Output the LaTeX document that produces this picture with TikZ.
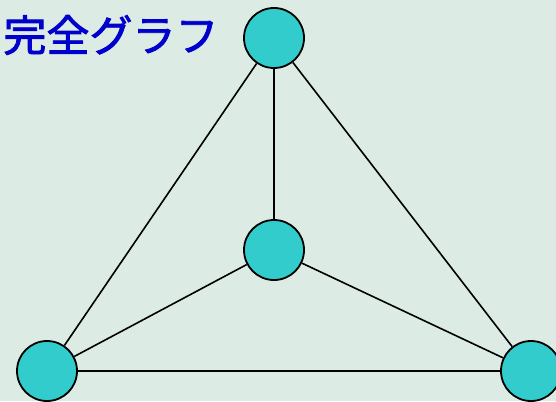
\documentclass[tikz,border=0pt]{standalone}
\usepackage{fontspec}
\newfontfamily\jpfont[FakeBold=2]{Noto Sans CJK JP}
\definecolor{bgGreen}{HTML}{DCECE4}
\definecolor{vertCyan}{HTML}{33CCCC}
\definecolor{titleBlue}{HTML}{0000CC}
\tikzset{
  vert/.style={circle, draw=black, line width=1.8pt, fill=vertCyan, minimum size=60pt, inner sep=0pt},
  edge/.style={line width=1.6pt, black}
}
\begin{document}
\begin{tikzpicture}[x=1pt,y=-1pt]
  % background
  \fill[bgGreen] (0,0) rectangle (556,401);
  \useasboundingbox (0,0) rectangle (556,401);
  % title
  \node[font=\jpfont\fontsize{43}{48}\selectfont, text=titleBlue, inner sep=0pt] (title) at (111,35) {完全グラフ};
  % vertices
  \node[vert] (top) at (274,38) {};
  \node[vert] (mid) at (274,250) {};
  \node[vert] (left) at (47,371) {};
  \node[vert] (right) at (531,371) {};
  % edges
  \foreach \a/\b in {top/mid, top/left, top/right, mid/left, mid/right, left/right}
    \draw[edge] (\a) -- (\b);
\end{tikzpicture}
\end{document}
